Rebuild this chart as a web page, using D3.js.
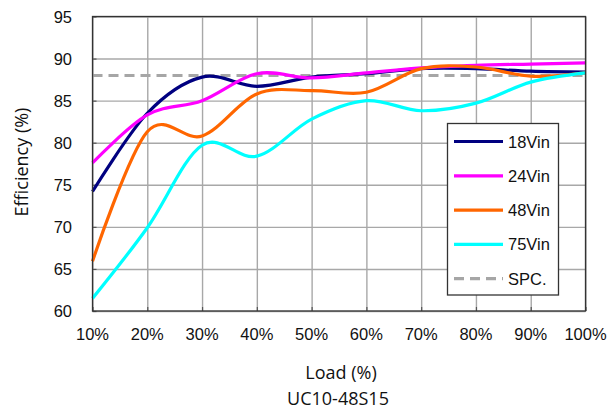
<!DOCTYPE html>
<html>
<head>
<meta charset="utf-8">
<script src="https://cdn.jsdelivr.net/npm/d3@7"></script>
<style>
  body { margin: 0; background: #fff; }
  svg { display: block; }
</style>
</head>
<body>
<svg id="chart" width="610" height="413"></svg>
<script>
// load points (%)
var loads = [10, 20, 30, 40, 50, 60, 70, 80, 90, 100];

// efficiency (%) at each load
var eff18 = [74.2, 83.5, 87.8, 86.7, 87.8, 88.2, 88.8, 88.8, 88.5, 88.4];
var eff24 = [77.6, 83.3, 85.0, 88.2, 87.7, 88.3, 88.9, 89.2, 89.35, 89.5];
var eff48 = [65.9, 81.3, 80.8, 85.8, 86.2, 86.0, 88.8, 89.0, 87.9, 88.3];
var eff75 = [61.5, 69.9, 79.7, 78.4, 82.8, 85.0, 83.8, 84.7, 87.2, 88.3];
var spc = 88;

var seriesNames = ["18Vin", "24Vin", "48Vin", "75Vin"];
var seriesColors = ["#000080", "#ff00ff", "#ff6600", "#00ffff"];
var seriesValues = [eff18, eff24, eff48, eff75];

var yTicks = [60, 65, 70, 75, 80, 85, 90, 95];
var xTickLabels = ["10%", "20%", "30%", "40%", "50%", "60%", "70%", "80%", "90%", "100%"];

var svg = d3.select("#chart");
var pLeft = 92.5, pRight = 585.5, pTop = 16.5, pBottom = 311;

var x = d3.scaleLinear().domain([10, 100]).range([pLeft, pRight]);
var y = d3.scaleLinear().domain([60, 95]).range([pBottom, pTop]);

// grid
svg.append("g")
  .attr("transform", "translate(" + pLeft + ",0)")
  .call(d3.axisLeft(y).tickValues(yTicks).tickSize(-(pRight - pLeft)).tickFormat(""))
  .call(g => g.select(".domain").remove())
  .selectAll("line").attr("stroke", "#a8a8a8").attr("stroke-width", 1.4);

svg.append("g")
  .attr("transform", "translate(0," + pBottom + ")")
  .call(d3.axisBottom(x).tickValues(loads).tickSize(-(pBottom - pTop)).tickFormat(""))
  .call(g => g.select(".domain").remove())
  .selectAll("line").attr("stroke", "#a8a8a8").attr("stroke-width", 1.4);

// inner tick marks
svg.append("g")
  .attr("transform", "translate(0," + pBottom + ")")
  .call(d3.axisBottom(x).tickValues(loads).tickSize(-4).tickFormat(""))
  .call(g => g.select(".domain").remove())
  .selectAll("line").attr("stroke", "#555").attr("stroke-width", 1.2);

svg.append("g")
  .attr("transform", "translate(" + pLeft + ",0)")
  .call(d3.axisLeft(y).tickValues(yTicks).tickSize(-4).tickFormat(""))
  .call(g => g.select(".domain").remove())
  .selectAll("line").attr("stroke", "#555").attr("stroke-width", 1.2);

// tick labels
svg.append("g").selectAll("text")
  .data(yTicks)
  .enter()
  .append("text")
  .attr("x", 72)
  .attr("y", d => y(d) + 6)
  .attr("text-anchor", "end")
  .attr("font-family", "Liberation Sans, Arial, sans-serif")
  .attr("font-size", 16.5)
  .attr("fill", "#111")
  .text(d => d);

svg.append("g").selectAll("text")
  .data(loads)
  .enter()
  .append("text")
  .attr("x", d => x(d))
  .attr("y", 340)
  .attr("text-anchor", "middle")
  .attr("font-family", "Liberation Sans, Arial, sans-serif")
  .attr("font-size", 16.5)
  .attr("fill", "#111")
  .text((d, i) => xTickLabels[i]);

// spec line
svg.append("line")
  .attr("x1", pLeft).attr("x2", pRight)
  .attr("y1", y(spc)).attr("y2", y(spc))
  .attr("stroke", "#a6a6a6")
  .attr("stroke-width", 3)
  .attr("stroke-dasharray", "10,6");

// curves
var line = d3.line()
  .x((d, i) => x(loads[i]))
  .y(d => y(d))
  .curve(d3.curveCatmullRom.alpha(0));

svg.append("g").selectAll("path")
  .data(seriesValues)
  .enter()
  .append("path")
  .attr("d", d => line(d))
  .attr("fill", "none")
  .attr("stroke", (d, i) => seriesColors[i])
  .attr("stroke-width", 3.2)
  .attr("stroke-linejoin", "round");

// frame
svg.append("rect")
  .attr("x", pLeft).attr("y", pTop)
  .attr("width", pRight - pLeft).attr("height", pBottom - pTop)
  .attr("fill", "none")
  .attr("stroke", "#333")
  .attr("stroke-width", 1.3);

// legend
var legend = svg.append("g");
legend.append("rect")
  .attr("x", 447.5).attr("y", 123.5)
  .attr("width", 111).attr("height", 171.5)
  .attr("fill", "#fff")
  .attr("stroke", "#333")
  .attr("stroke-width", 1.3);

var legendNames = seriesNames.concat(["SPC."]);
var legendColors = seriesColors.concat(["#a6a6a6"]);

var rows = legend.selectAll(".row")
  .data(legendNames)
  .enter()
  .append("g")
  .attr("class", "row")
  .attr("transform", (d, i) => "translate(0," + (141.5 + i * 34.3) + ")");

rows.append("line")
  .attr("x1", 454).attr("x2", 503)
  .attr("y1", 0).attr("y2", 0)
  .attr("stroke", (d, i) => legendColors[i])
  .attr("stroke-width", 3.2)
  .attr("stroke-dasharray", (d, i) => i === 4 ? "10,6" : null);

rows.append("text")
  .attr("x", 508)
  .attr("y", 6)
  .attr("font-family", "Liberation Sans, Arial, sans-serif")
  .attr("font-size", 16.5)
  .attr("fill", "#111")
  .text(d => d);

// axis titles
svg.append("text")
  .attr("x", 341)
  .attr("y", 379)
  .attr("text-anchor", "middle")
  .attr("font-family", "Open Sans, sans-serif")
  .attr("font-size", 18)
  .attr("fill", "#111")
  .text("Load (%)");

svg.append("text")
  .attr("x", 338)
  .attr("y", 405)
  .attr("text-anchor", "middle")
  .attr("font-family", "Open Sans, sans-serif")
  .attr("font-size", 18)
  .attr("fill", "#111")
  .text("UC10-48S15");

svg.append("text")
  .attr("transform", "translate(28,162) rotate(-90)")
  .attr("text-anchor", "middle")
  .attr("font-family", "Open Sans, sans-serif")
  .attr("font-size", 18)
  .attr("fill", "#111")
  .text("Efficiency (%)");
</script>
</body>
</html>
